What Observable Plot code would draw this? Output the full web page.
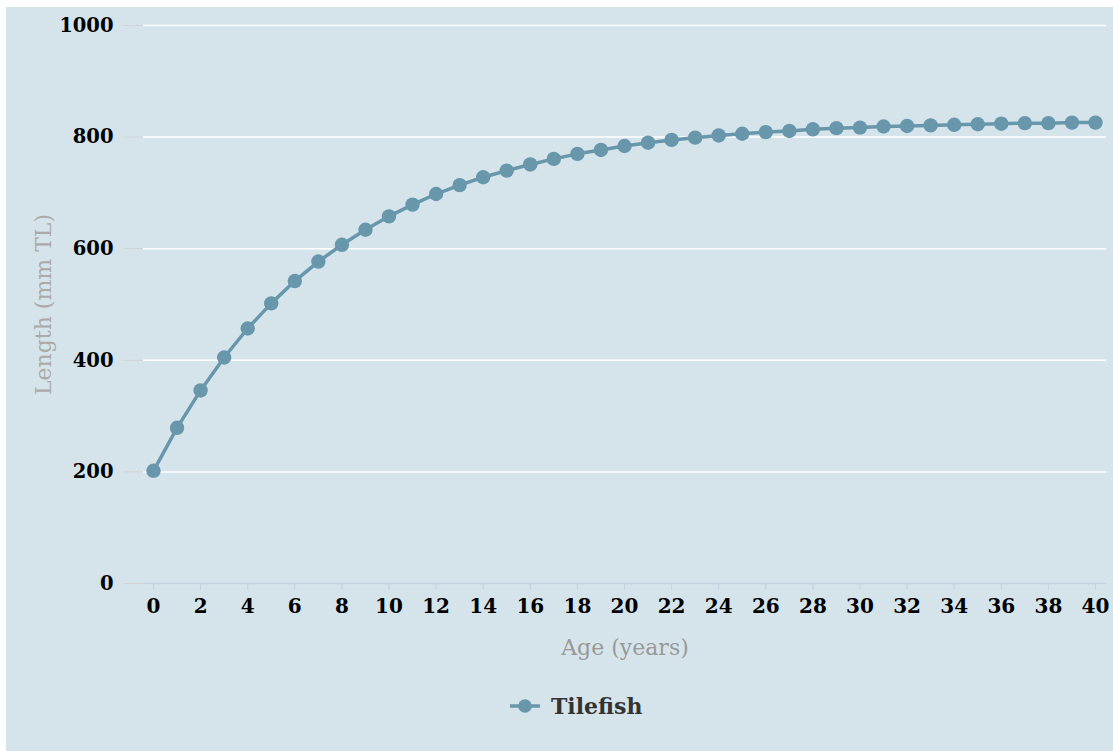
<!DOCTYPE html>
<html>
<head>
<meta charset="utf-8">
<script src="https://cdn.jsdelivr.net/npm/d3@7"></script>
<script src="https://cdn.jsdelivr.net/npm/@observablehq/plot@0.6"></script>
<style>
  html, body { margin: 0; padding: 0; background: #ffffff; }
  #wrap { position: absolute; left: 6px; top: 7px; width: 1107px; height: 744px; background: #d5e4eb; overflow: hidden; }
  #chart svg { display: block; background: transparent; }
  #chart [aria-label$="tick label"] text, #chart [aria-label$="tick label"] { font-weight: bold; }
  #legend { position: absolute; left: 503px; top: 685px; height: 28px; display: flex; align-items: center;
            font-family: "DejaVu Serif", serif; font-weight: bold; font-size: 22px; color: #333333; }
  #legend svg { margin-right: 10px; }
</style>
</head>
<body>
<div id="wrap">
  <div id="chart"></div>
  <div id="legend"></div>
</div>
<script>
const seriesName = "Tilefish";
const ages = [0,1,2,3,4,5,6,7,8,9,10,11,12,13,14,15,16,17,18,19,20,21,22,23,24,25,26,27,28,29,30,31,32,33,34,35,36,37,38,39,40];
const lengths = [202,279,346,405,457,502,542,577,607,634,658,679,698,714,728,740,751,761,770,777,784,790,795,799,803,806,809,811,814,816,817,819,820,821,822,823,824,825,825,826,826];
const xTicks = [0,2,4,6,8,10,12,14,16,18,20,22,24,26,28,30,32,34,36,38,40];
const yTicks = [0,200,400,600,800,1000];
const yGrid = [200,400,600,800,1000];
const xLabel = "Age (years)";
const yLabel = "Length (mm TL)";

const color = "#6897ab";
const data = ages.map((a, i) => ({age: a, length: lengths[i]}));

const chart = Plot.plot({
  width: 1107,
  height: 660,
  marginLeft: 137,
  marginRight: 7,
  marginTop: 18,
  marginBottom: 84,
  insetLeft: 10,
  insetRight: 11,
  style: {fontFamily: "DejaVu Serif", fontSize: "19px", background: "transparent", color: "#000"},
  x: {domain: [0, 40]},
  y: {domain: [0, 1000]},
  marks: [
    Plot.ruleY(yGrid, {stroke: "#ffffff", strokeWidth: 1.5}),
    Plot.ruleY([0], {stroke: "#c3d2e2", strokeWidth: 1.5}),
    Plot.axisY({ticks: yTicks, tickSize: 19, tickPadding: 11, stroke: "#d3d3d3", fill: "#000", fontWeight: "bold", fontSize: 19.5, label: null, tickFormat: d => String(d)}),
    Plot.axisX({ticks: xTicks, tickSize: 7, tickPadding: 8, stroke: "#c3d2e2", fill: "#000", fontWeight: "bold", fontSize: 20, label: null, tickFormat: d => String(d)}),
    Plot.text([xLabel], {frameAnchor: "bottom", dy: 64, text: d => d, fill: "#999999", fontSize: 22, textAnchor: "middle", lineAnchor: "middle"}),
    Plot.text([yLabel], {frameAnchor: "left", dx: -100, rotate: -90, text: d => d, fill: "#aaaaaa", fontSize: 22, textAnchor: "middle", lineAnchor: "middle"}),
    Plot.line(data, {x: "age", y: "length", stroke: color, strokeWidth: 3.5}),
    Plot.dot(data, {x: "age", y: "length", r: 7.2, fill: color, stroke: "none"})
  ]
});
document.getElementById("chart").appendChild(chart);

document.getElementById("legend").innerHTML =
  `<svg width="32" height="16"><line x1="1" y1="8" x2="31" y2="8" stroke="${color}" stroke-width="3.5"/><circle cx="16" cy="8" r="6.8" fill="${color}"/></svg><span>${seriesName}</span>`;
</script>
</body>
</html>
